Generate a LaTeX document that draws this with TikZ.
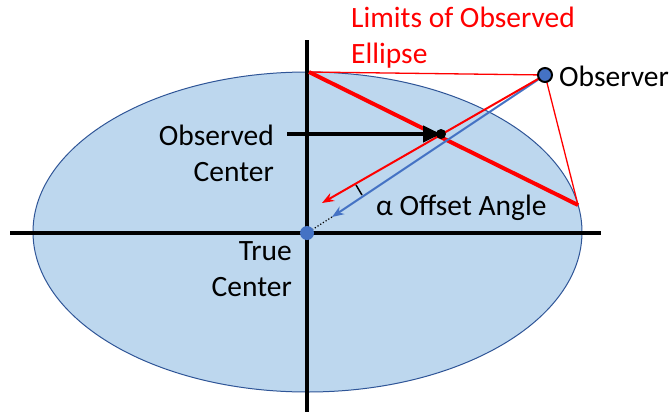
\documentclass[tikz,border=0pt]{standalone}
\usepackage{fontspec}
\setmainfont{Carlito}
\usetikzlibrary{arrows.meta}
\definecolor{efill}{RGB}{189,215,238}
\definecolor{edraw}{RGB}{47,85,151}
\definecolor{bl}{RGB}{68,114,196}
\begin{document}
\begin{tikzpicture}[x=1pt,y=-1pt,
  lbl/.style={font=\fontsize{29.5}{36}\selectfont, inner sep=0pt, align=center},
  thinred/.style={red, line width=1.3pt},
  thickred/.style={red, line width=4pt},
  axis/.style={black, line width=4.5pt}]
\useasboundingbox (0,0) rectangle (671,415);
% ellipse
\draw[fill=efill, draw=edraw, line width=1pt] (307.5,232) ellipse [x radius=274.5, y radius=160];
% coordinates
\coordinate (C) at (307,233);
\coordinate (T) at (309,72);
\coordinate (R) at (578,205);
\coordinate (O) at (545,75);
\coordinate (OC) at (441,134);
\coordinate (ra) at (322,203);
\coordinate (ba) at (332,217);
\coordinate (ab) at (287,134);
\coordinate (t1) at (356,185);
\coordinate (t2) at (362,195);
% axes
\draw[axis] (10,233) -- (601,233);
\draw[axis] (307,40) -- (307,412);
% red limits
\draw[thinred] (T) -- (O) -- (R);
\draw[thickred] (T) -- (R);
% blue line to true center
\draw[bl, line width=2pt, -{Stealth[length=12pt,width=9pt]}] (O) -- (ba);
\draw[black, line width=1.2pt, dotted] (ba) -- (C);
% red line through observed center
\draw[red, line width=2pt, -{Stealth[length=12pt,width=9pt]}] (O) -- (ra);
% angle tick
\draw[black, line width=1.5pt] (t1) -- (t2);
% black arrow
\draw[black, line width=4pt, -{Triangle[length=18pt,width=16pt]}] (ab) -- (OC);
\fill[black] (OC) circle (5);
% dots
\fill[bl] (C) circle (7);
\draw[bl, fill=bl] (O) circle (6);
\draw[black, line width=2pt] (O) circle (7);
% texts
\node[lbl, text=red, align=left, anchor=north west] (lim) at (351,7) {Limits of Observed\\Ellipse};
\node[lbl, anchor=west] (obs) at (559,76) {Observer};
\node[lbl, align=right, anchor=east] (oc) at (274,153) {Observed\\Center};
\node[lbl, anchor=west] (alpha) at (376,208) {α Offset Angle};
\node[lbl, align=right, anchor=east] (tc) at (292,269) {True\\Center};
\end{tikzpicture}
\end{document}
